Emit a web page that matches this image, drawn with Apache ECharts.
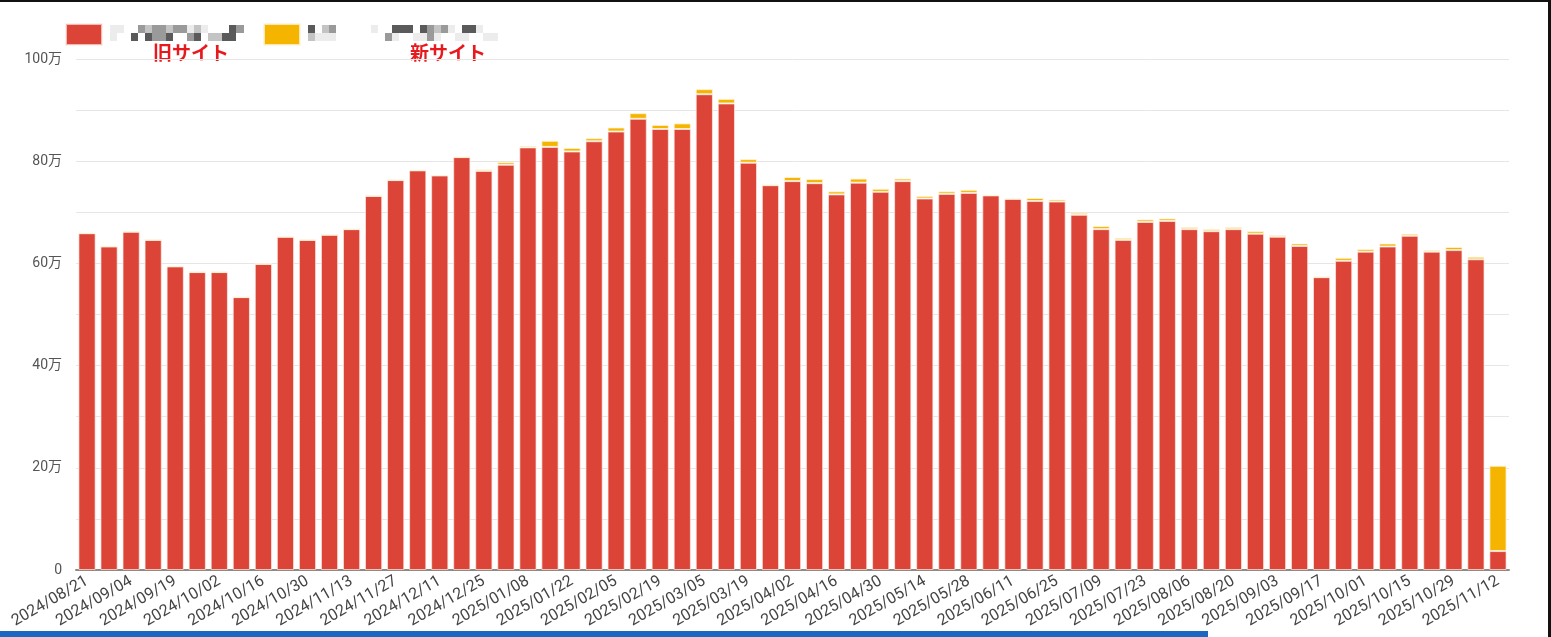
<!DOCTYPE html>
<html>
<head>
<meta charset="utf-8">
<script src="https://cdn.jsdelivr.net/npm/echarts@6/dist/echarts.min.js"></script>
<style>
html,body{margin:0;padding:0;background:#fff;}
#chart{width:1551px;height:637px;}
</style>
</head>
<body>
<div id="chart"></div>
<script>
const categories = [
'2024/08/21','2024/08/28','2024/09/04','2024/09/11','2024/09/19','2024/09/25','2024/10/02','2024/10/09','2024/10/16','2024/10/23','2024/10/30','2024/11/06','2024/11/13','2024/11/20','2024/11/27','2024/12/04','2024/12/11','2024/12/18','2024/12/25',
'2025/01/01','2025/01/08','2025/01/15','2025/01/22','2025/01/29','2025/02/05','2025/02/12','2025/02/19','2025/02/26','2025/03/05','2025/03/12','2025/03/19','2025/03/26','2025/04/02','2025/04/09','2025/04/16','2025/04/23','2025/04/30','2025/05/07','2025/05/14','2025/05/21','2025/05/28','2025/06/04','2025/06/11','2025/06/18','2025/06/25','2025/07/02','2025/07/09','2025/07/16','2025/07/23','2025/07/30','2025/08/06','2025/08/13','2025/08/20','2025/08/27','2025/09/03','2025/09/10','2025/09/17','2025/09/24','2025/10/01','2025/10/08','2025/10/15','2025/10/22','2025/10/29','2025/11/05','2025/11/12'
];
// values in 万
const oldSite = [65.9,63.3,66.2,64.6,59.4,58.3,58.3,53.4,59.9,65.2,64.6,65.6,66.7,73.2,76.3,78.2,77.2,80.8,78.1,79.3,82.7,82.8,81.9,83.9,85.8,88.3,86.3,86.3,93.1,91.3,79.7,75.3,76.1,75.7,73.5,75.8,74.0,76.1,72.7,73.6,73.8,73.3,72.6,72.2,72.1,69.5,66.7,64.6,68.1,68.3,66.7,66.3,66.7,65.8,65.2,63.4,57.3,60.5,62.3,63.3,65.4,62.3,62.6,60.8,3.7];
const newSite = [0,0,0,0,0,0,0,0,0,0,0,0,0,0,0,0,0,0,0.3,0.5,0.3,1.2,0.7,0.6,0.8,1.1,0.8,1.1,1.0,0.9,0.7,0.1,0.8,0.8,0.6,0.8,0.6,0.5,0.5,0.5,0.6,0.1,0.2,0.6,0.4,0.4,0.6,0.4,0.5,0.5,0.4,0.4,0.4,0.5,0.3,0.5,0.1,0.6,0.5,0.6,0.4,0.3,0.6,0.5,16.7];
const yTicks = [0,20,40,60,80,100];
const seriesNames = ['旧サイト','新サイト'];
const annotations = ['旧サイト','新サイト'];

// pixelated (censored) legend labels
const shades = {a:'#5a5a5a', b:'#9a9a9a', c:'#c4c4c4', d:'#ececec', e:'#ffffff'};
const mosaic1 = ['ddeebcbbcbbdcdeeeab','deeaeabbaeebaeccaae'];
const mosaic2 = ['aecbeeeeedeeaaaeabcbdeaadee','cdddeeeeeeebdeeddbdeeddeedd'];
const mk = rows => rows.map(r => r.split('').map(ch => '{' + ch + '|■}').join('')).join('\n');
const rich = {};
Object.keys(shades).forEach(k => rich[k] = {color: shades[k], fontSize: 10, lineHeight: 8, width: 7});

const chart = echarts.init(document.getElementById('chart'));
chart.setOption({
  animation: false,
  textStyle: {fontFamily: 'Roboto, "Noto Sans CJK JP", sans-serif'},
  legend: {
    left: 60, top: 18, itemWidth: 36, itemHeight: 21, itemGap: 18,
    icon: 'rect',
    data: seriesNames,
    formatter: n => n === seriesNames[0] ? mk(mosaic1) : mk(mosaic2),
    textStyle: {rich: rich, padding: [0,0,0,2]}
  },
  grid: {left: 76, right: 42, top: 59, bottom: 67},
  xAxis: {
    type: 'category', data: categories,
    axisTick: {show: false},
    axisLine: {lineStyle: {color: '#8c8c84', width: 2}},
    axisLabel: {rotate: 30, interval: 1, color: '#444', fontSize: 16, margin: 10}
  },
  yAxis: {
    type: 'value', min: 0, max: 100, interval: 10,
    axisLine: {show: false}, axisTick: {show: false},
    splitLine: {lineStyle: {color: '#e6e6e6', width: 1}},
    axisLabel: {
      color: '#555', fontSize: 14, margin: 14,
      formatter: v => yTicks.indexOf(v) < 0 ? '' : (v === 0 ? '0' : v + '万')
    }
  },
  series: [
    {name: seriesNames[0], type: 'bar', stack: 's', data: oldSite, barCategoryGap: '22%',
     itemStyle: {color: '#db4437', borderColor: 'rgba(255,235,230,0.7)', borderWidth: 1}},
    {name: seriesNames[1], type: 'bar', stack: 's', data: newSite,
     itemStyle: {color: '#f4b400', borderColor: 'rgba(255,245,220,0.8)', borderWidth: 1}}
  ],
  graphic: [
    {type: 'text', left: 153, top: 43, style: {text: annotations[0], fill: '#e8191c', font: 'bold 19px "Noto Sans CJK JP", sans-serif'}},
    {type: 'text', left: 410, top: 43, style: {text: annotations[1], fill: '#e8191c', font: 'bold 19px "Noto Sans CJK JP", sans-serif'}},
    {type: 'rect', shape: {x: 0, y: 0, width: 1551, height: 2}, style: {fill: '#111'}},
    {type: 'rect', shape: {x: 1548, y: 0, width: 3, height: 637}, style: {fill: '#111'}},
    {type: 'rect', shape: {x: 0, y: 631, width: 1208, height: 6}, style: {fill: '#1a66c0'}}
  ]
});
</script>
</body>
</html>
